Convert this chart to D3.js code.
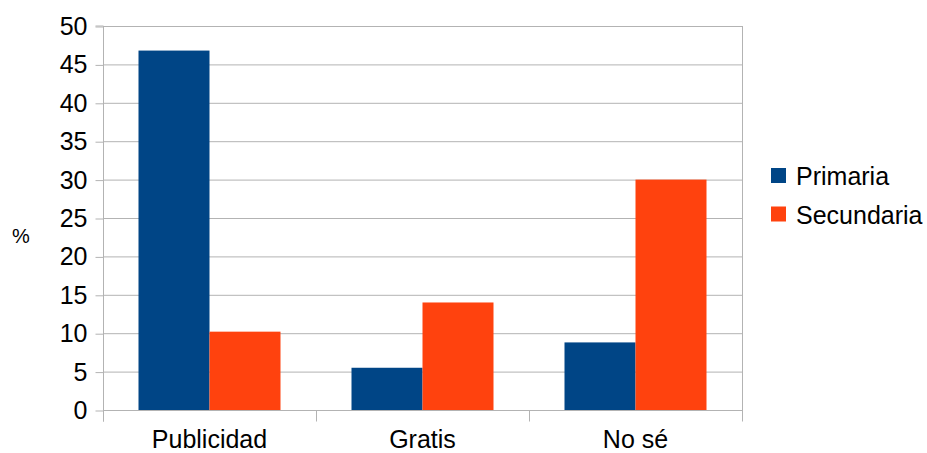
<!DOCTYPE html>
<html><head><meta charset="utf-8">
<script src="https://cdn.jsdelivr.net/npm/d3@7"></script>
<style>html,body{margin:0;padding:0;background:#fff;}svg{display:block;font-family:"Liberation Sans",Arial,sans-serif;}</style>
</head><body>
<svg id="c" width="927" height="453"></svg>
<script>
const categories = ["Publicidad", "Gratis", "No sé"];
const seriesNames = ["Primaria", "Secundaria"];
const primaria = [46.8, 5.5, 8.8];
const secundaria = [10.2, 14.0, 30.0];
const yTicks = [0, 5, 10, 15, 20, 25, 30, 35, 40, 45, 50];
const colors = ["#004586", "#ff420e"];

const svg = d3.select("#c");
const L = 103, R = 742, T = 26, B = 410;
const x = d3.scaleBand().domain(categories).range([L, R]).padding(0);
const inner = d3.scaleBand().domain(seriesNames).range([0, x.bandwidth()]).paddingInner(0).paddingOuter(0.5);
const y = d3.scaleLinear().domain([0, 50]).range([B, T]);
const data = [primaria, secundaria];

// gridlines
svg.append("g").selectAll("line").data(yTicks).join("line")
  .attr("x1", L).attr("x2", R).attr("y1", d => y(d) + 0.5).attr("y2", d => y(d) + 0.5)
  .attr("stroke", "#b3b3b3").attr("stroke-width", 1);
// right border
svg.append("line").attr("x1", R + 0.5).attr("x2", R + 0.5).attr("y1", T).attr("y2", B)
  .attr("stroke", "#b3b3b3");

// bars
categories.forEach((c, i) => {
  seriesNames.forEach((s, j) => {
    svg.append("rect")
      .attr("x", x(c) + inner(s)).attr("width", inner.bandwidth())
      .attr("y", y(data[j][i])).attr("height", y(0) - y(data[j][i]))
      .attr("fill", colors[j]);
  });
});

// y axis
const yAxis = d3.axisLeft(y).tickValues(yTicks).tickSize(8).tickPadding(8).tickFormat(d3.format("d"));
const gy = svg.append("g").attr("transform", `translate(${L + 0.5},0.5)`).call(yAxis);
gy.select(".domain").attr("stroke", "#b3b3b3").attr("d", `M-8,${T - 0.5}H0V${B + 11}`);
gy.selectAll(".tick line").attr("stroke", "#b3b3b3");
gy.selectAll(".tick text").attr("font-size", 25).attr("fill", "#000")
  .attr("font-family", '"Liberation Sans",Arial,sans-serif');

// x axis
const gx = svg.append("g").attr("transform", `translate(0,${B + 0.5})`);
gx.append("line").attr("x1", L).attr("x2", R + 1).attr("y1", 0).attr("y2", 0).attr("stroke", "#b3b3b3");
const xt = categories.map(c => x(c)).concat([R]);
gx.selectAll("line.t").data(xt).join("line").attr("class", "t")
  .attr("x1", d => Math.round(d) + 0.5).attr("x2", d => Math.round(d) + 0.5)
  .attr("y1", 0).attr("y2", 11).attr("stroke", "#b3b3b3");
gx.selectAll("text").data(categories).join("text")
  .attr("x", d => x(d) + x.bandwidth() / 2).attr("y", 37)
  .attr("text-anchor", "middle").attr("font-size", 25).attr("fill", "#000").text(d => d);

// y label
svg.append("text").attr("x", 21).attr("y", 243).attr("text-anchor", "middle")
  .attr("font-size", 20).attr("fill", "#000").text("%");

// legend
const lg = svg.append("g");
seriesNames.forEach((s, j) => {
  const cy = 176 + j * 38.5;
  lg.append("rect").attr("x", 771).attr("y", cy - 8).attr("width", 15).attr("height", 15).attr("fill", colors[j]);
  lg.append("text").attr("x", 796).attr("y", cy + 9).attr("font-size", 25).attr("fill", "#000").text(s);
});
</script>
</body></html>
